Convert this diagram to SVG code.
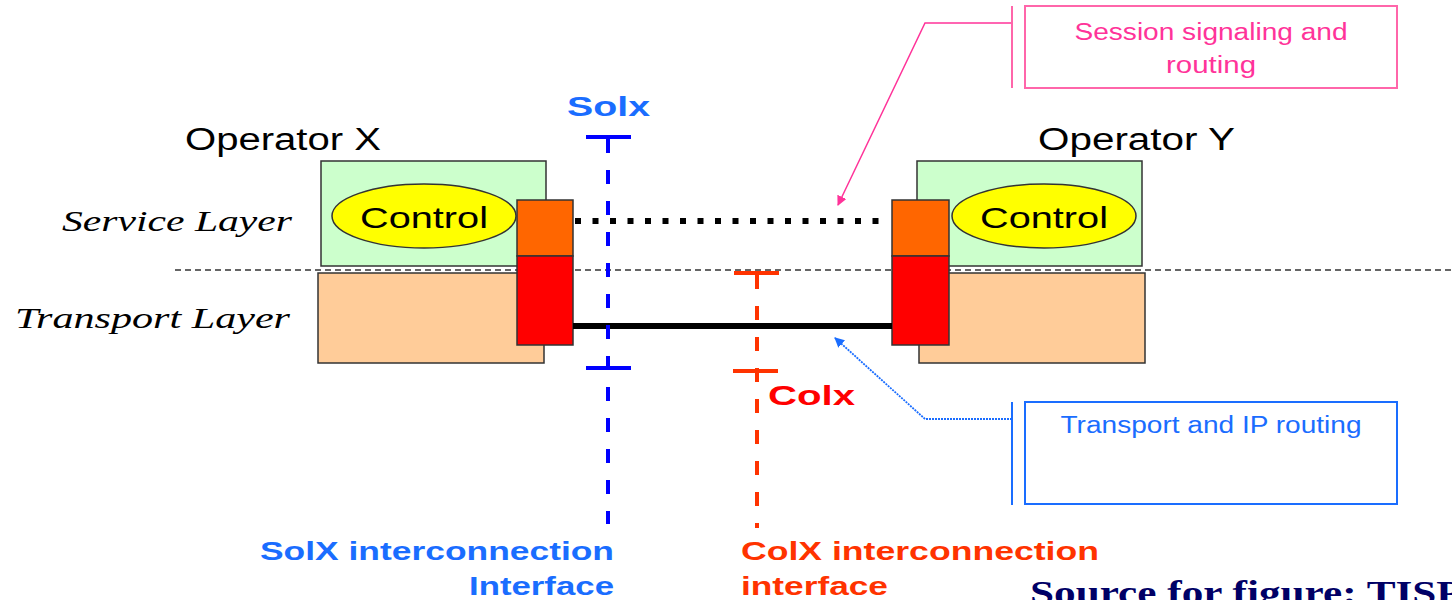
<svg xmlns="http://www.w3.org/2000/svg" width="1452" height="600" viewBox="0 0 1452 600">
<style>
.sans{font-family:"Liberation Sans",Arial,sans-serif}
.serif{font-family:"Liberation Serif","Times New Roman",serif}
.op{font-size:31px;fill:#000}
.layer{font-size:30px;font-style:italic;fill:#000}
.ctl{font-size:30px;fill:#000}
.box{stroke:#333;stroke-width:1.5}
.green{fill:#ccffcc}
.peach{fill:#ffcc99}
.orange{fill:#ff6600}
.red{fill:#ff0000}
.ell{fill:#ffff00;stroke:#333;stroke-width:1.5}
.lbl{font-size:28px;font-weight:bold}
.note{font-size:23px}
.iface{font-size:26px;font-weight:bold}
</style>
<defs>
<marker id="pinkArrow" markerWidth="10" markerHeight="10" refX="9" refY="5" orient="auto" markerUnits="userSpaceOnUse" viewBox="0 0 10 10">
<path d="M0,0 L10,5 L0,10 z" fill="#ff3399"/>
</marker>
<marker id="blueArrow" markerWidth="10" markerHeight="10" refX="9" refY="5" orient="auto" markerUnits="userSpaceOnUse" viewBox="0 0 10 10">
<path d="M0,0 L10,5 L0,10 z" fill="#1a6dff"/>
</marker>
</defs>
<rect width="1452" height="600" fill="#ffffff"/>

<!-- layer separator -->
<line x1="175" y1="270" x2="1452" y2="270" stroke="#333" stroke-width="1.3" stroke-dasharray="6,4"/>

<text class="serif layer" x="62" y="231" textLength="230" lengthAdjust="spacingAndGlyphs">Service Layer</text>
<text class="serif layer" x="15" y="328" textLength="275" lengthAdjust="spacingAndGlyphs">Transport Layer</text>

<g id="operatorX">
<text class="sans op" x="185" y="150" textLength="196" lengthAdjust="spacingAndGlyphs">Operator X</text>
<rect class="box green" x="321" y="161" width="225" height="105"/>
<rect class="box peach" x="318" y="273" width="226" height="90"/>
<ellipse class="ell" cx="424" cy="216" rx="92" ry="32"/>
<text class="sans ctl" x="360" y="228" textLength="128" lengthAdjust="spacingAndGlyphs">Control</text>
<rect class="box orange" x="517" y="200" width="56" height="56"/>
<rect class="box red" x="517" y="256" width="56" height="89"/>
</g>

<g id="operatorY">
<text class="sans op" x="1038" y="150" textLength="197" lengthAdjust="spacingAndGlyphs">Operator Y</text>
<rect class="box green" x="917" y="161" width="225" height="105"/>
<rect class="box peach" x="919" y="273" width="226" height="90"/>
<ellipse class="ell" cx="1044" cy="216" rx="92" ry="32"/>
<text class="sans ctl" x="980" y="228" textLength="128" lengthAdjust="spacingAndGlyphs">Control</text>
<rect class="box orange" x="892" y="200" width="57" height="56"/>
<rect class="box red" x="892" y="256" width="57" height="89"/>
</g>

<g id="connectors">
<line x1="575" y1="221" x2="890" y2="221" stroke="#000" stroke-width="6" stroke-dasharray="6,11.5"/>
<line x1="573" y1="326" x2="892" y2="326" stroke="#000" stroke-width="6"/>
<polyline points="1012,23 925,23 838,205" fill="none" stroke="#ff3399" stroke-width="1.5" marker-end="url(#pinkArrow)"/>
<polyline points="1012,419 925,419 835,338" fill="none" stroke="#1a6dff" stroke-width="1.8" stroke-dasharray="2,1" marker-end="url(#blueArrow)"/>
</g>

<g id="soix">
<line x1="608" y1="139" x2="608" y2="524" stroke="#0000ff" stroke-width="4" stroke-dasharray="14,17"/>
<line x1="586" y1="137" x2="631" y2="137" stroke="#0000ff" stroke-width="4"/>
<line x1="586" y1="368" x2="631" y2="368" stroke="#0000ff" stroke-width="4"/>
<text class="sans lbl" x="567" y="116" fill="#1a6dff" textLength="83" lengthAdjust="spacingAndGlyphs">Solx</text>
<text class="sans iface" x="260" y="560" fill="#1a6dff" textLength="354" lengthAdjust="spacingAndGlyphs">SolX interconnection</text>
<text class="sans iface" x="469" y="595" fill="#1a6dff" textLength="145" lengthAdjust="spacingAndGlyphs">Interface</text>
</g>

<g id="coix">
<line x1="757" y1="275" x2="757" y2="528" stroke="#ff3300" stroke-width="4" stroke-dasharray="14,17"/>
<line x1="734" y1="273" x2="779" y2="273" stroke="#ff3300" stroke-width="4"/>
<line x1="733" y1="371" x2="778" y2="371" stroke="#ff3300" stroke-width="4"/>
<text class="sans lbl" x="768" y="405" fill="#ff0000" textLength="87" lengthAdjust="spacingAndGlyphs">Colx</text>
<text class="sans iface" x="741" y="560" fill="#ff3300" textLength="358" lengthAdjust="spacingAndGlyphs">ColX interconnection</text>
<text class="sans iface" x="741" y="595" fill="#ff3300" textLength="147" lengthAdjust="spacingAndGlyphs">interface</text>
</g>

<g id="sessionNote">
<line x1="1012" y1="6" x2="1012" y2="88" stroke="#ff66aa" stroke-width="2"/>
<rect x="1025" y="6" width="372" height="82" fill="#ffffff" stroke="#ff66aa" stroke-width="2"/>
<text class="sans note" x="1211" y="40" fill="#ff3399" text-anchor="middle" textLength="273" lengthAdjust="spacingAndGlyphs">Session signaling and</text>
<text class="sans note" x="1211" y="73" fill="#ff3399" text-anchor="middle" textLength="90" lengthAdjust="spacingAndGlyphs">routing</text>
</g>

<g id="transportNote">
<line x1="1012" y1="402" x2="1012" y2="505" stroke="#1a6dff" stroke-width="2"/>
<rect x="1025" y="402" width="372" height="102" fill="#ffffff" stroke="#1a6dff" stroke-width="2"/>
<text class="sans note" x="1211" y="433" fill="#1a6dff" text-anchor="middle" textLength="301" lengthAdjust="spacingAndGlyphs">Transport and IP routing</text>
</g>

<text class="serif" x="1030" y="604" font-size="34" font-weight="bold" fill="#000066" textLength="492" lengthAdjust="spacingAndGlyphs">Source for figure: TISPAN</text>
</svg>
